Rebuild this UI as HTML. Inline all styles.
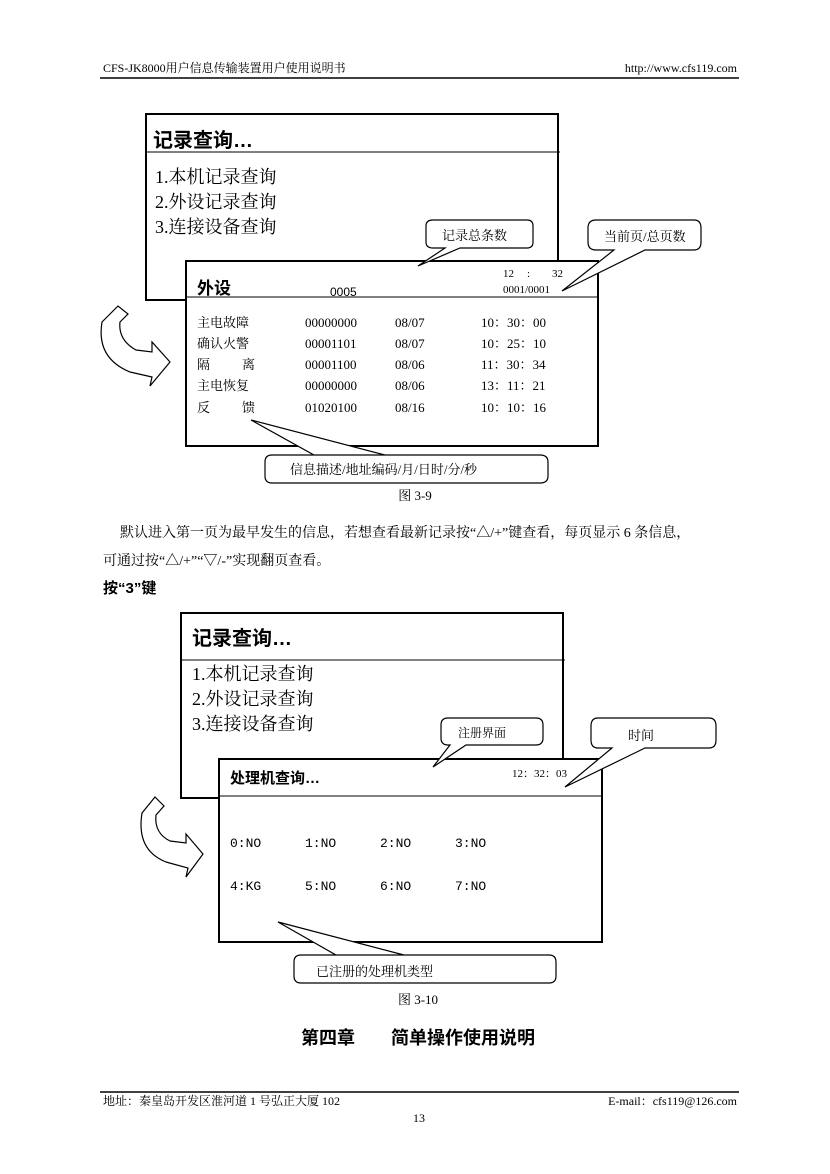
<!DOCTYPE html>
<html><head><meta charset="utf-8"><style>
html,body{margin:0;padding:0;background:#fff;}
svg{display:block;}
text{font-family:"Liberation Serif","Noto Serif CJK SC","Noto Sans CJK SC",serif;fill:#000;}
.s{font-family:"Liberation Sans","Noto Sans CJK SC",sans-serif;}
.b{font-weight:bold;}
</style></head><body>
<svg width="830" height="1174" viewBox="0 0 830 1174" xmlns="http://www.w3.org/2000/svg">
<!-- header -->
<text x="103" y="72" font-size="12">CFS-JK8000用户信息传输装置用户使用说明书</text>
<text x="737" y="72" font-size="12" text-anchor="end">http://www.cfs119.com</text>
<line x1="100" y1="78" x2="739" y2="78" stroke="#000" stroke-width="1.5"/>

<!-- FIG 3-9 -->
<rect x="146" y="114" width="412" height="186" fill="#fff" stroke="#000" stroke-width="2"/>
<line x1="146" y1="152" x2="560" y2="152" stroke="#000" stroke-width="1"/>
<text x="153" y="147" font-size="20" class="s b">记录查询…</text>
<text x="155" y="183" font-size="18">1.本机记录查询</text>
<text x="155" y="208" font-size="18">2.外设记录查询</text>
<text x="155" y="233" font-size="18">3.连接设备查询</text>

<rect x="186" y="261" width="412" height="185" fill="#fff" stroke="#000" stroke-width="2"/>
<line x1="186" y1="297" x2="598" y2="297" stroke="#000" stroke-width="1"/>
<text x="197" y="294" font-size="17" class="s b">外设</text>
<text x="330" y="296" font-size="12" class="s">0005</text>
<text x="503" y="277" font-size="11">12</text><text x="527" y="277" font-size="11">:</text><text x="552" y="277" font-size="11">32</text>
<text x="503" y="293" font-size="11">0001/0001</text>
<g font-size="13">
<text x="197" y="327">主电故障</text><text x="305" y="327">00000000</text><text x="395" y="327">08/07</text><text x="481" y="327">10：30：00</text>
<text x="197" y="348">确认火警</text><text x="305" y="348">00001101</text><text x="395" y="348">08/07</text><text x="481" y="348">10：25：10</text>
<text x="197" y="369">隔</text><text x="242" y="369">离</text><text x="305" y="369">00001100</text><text x="395" y="369">08/06</text><text x="481" y="369">11：30：34</text>
<text x="197" y="390">主电恢复</text><text x="305" y="390">00000000</text><text x="395" y="390">08/06</text><text x="481" y="390">13：11：21</text>
<text x="197" y="412">反</text><text x="242" y="412">馈</text><text x="305" y="412">01020100</text><text x="395" y="412">08/16</text><text x="481" y="412">10：10：16</text>
</g>

<!-- callouts fig1 -->
<path d="M433,220 H527 Q533,220 533,226 V242 Q533,248 527,248 H460 L418,266 L445,248 H433 Q426,248 426,242 V226 Q426,220 433,220 Z" fill="#fff" stroke="#000" stroke-width="1.2"/>
<text x="442" y="240" font-size="13">记录总条数</text>
<path d="M596,220 H694 Q701,220 701,228 V242 Q701,250 694,250 H645 L562,291 L614,250 H596 Q588,250 588,242 V228 Q588,220 596,220 Z" fill="#fff" stroke="#000" stroke-width="1.2"/>
<text x="604" y="241" font-size="13">当前页/总页数</text>
<path d="M272,455 H385 L251,420 L314,455 H540 Q548,455 548,462 V476 Q548,483 540,483 H272 Q265,483 265,476 V462 Q265,455 272,455 Z" fill="#fff" stroke="#000" stroke-width="1.2"/>
<text x="290" y="474" font-size="13">信息描述/地址编码/月/日时/分/秒</text>
<text x="415" y="500" font-size="13" text-anchor="middle">图 3-9</text>

<!-- curved arrow 1 -->
<path d="M118,306 L102,322 Q96,358 130,372 L152,377 L150,386 L170,362 L152,342 L152,352 L136,350 Q118,340 120,322 L128,314 Z" fill="#fff" stroke="#000" stroke-width="1.2"/>

<!-- paragraph -->
<text x="120" y="537" font-size="14">默认进入第一页为最早发生的信息，若想查看最新记录按“△/+”键查看，每页显示 6 条信息，</text>
<text x="103" y="565" font-size="14">可通过按“△/+”“▽/-”实现翻页查看。</text>
<text x="103" y="593" font-size="15" class="s b">按“3”键</text>

<!-- FIG 3-10 -->
<rect x="181" y="613" width="382" height="185" fill="#fff" stroke="#000" stroke-width="2"/>
<line x1="181" y1="660" x2="565" y2="660" stroke="#000" stroke-width="1"/>
<text x="192" y="645" font-size="20" class="s b">记录查询…</text>
<text x="192" y="680" font-size="18">1.本机记录查询</text>
<text x="192" y="705" font-size="18">2.外设记录查询</text>
<text x="192" y="730" font-size="18">3.连接设备查询</text>

<rect x="219" y="759" width="383" height="183" fill="#fff" stroke="#000" stroke-width="2"/>
<line x1="219" y1="796" x2="602" y2="796" stroke="#000" stroke-width="1"/>
<text x="230" y="783" font-size="15" class="s b">处理机查询…</text>
<text x="512" y="777" font-size="11">12：32：03</text>
<g font-size="13" font-family="Liberation Mono, monospace">
<text x="230" y="847" style="font-family:'Liberation Mono',monospace">0:NO</text>
<text x="305" y="847" style="font-family:'Liberation Mono',monospace">1:NO</text>
<text x="380" y="847" style="font-family:'Liberation Mono',monospace">2:NO</text>
<text x="455" y="847" style="font-family:'Liberation Mono',monospace">3:NO</text>
<text x="230" y="890" style="font-family:'Liberation Mono',monospace">4:KG</text>
<text x="305" y="890" style="font-family:'Liberation Mono',monospace">5:NO</text>
<text x="380" y="890" style="font-family:'Liberation Mono',monospace">6:NO</text>
<text x="455" y="890" style="font-family:'Liberation Mono',monospace">7:NO</text>
</g>

<path d="M448,718 H536 Q543,718 543,725 V738 Q543,745 536,745 H466 L433,767 L450,745 H448 Q441,745 441,738 V725 Q441,718 448,718 Z" fill="#fff" stroke="#000" stroke-width="1.2"/>
<text x="458" y="737" font-size="12">注册界面</text>
<path d="M598,718 H709 Q716,718 716,726 V740 Q716,748 709,748 H645 L565,787 L612,748 H598 Q591,748 591,740 V726 Q591,718 598,718 Z" fill="#fff" stroke="#000" stroke-width="1.2"/>
<text x="628" y="740" font-size="13">时间</text>
<path d="M301,955 H404 L278,922 L336,955 H549 Q556,955 556,962 V976 Q556,983 549,983 H301 Q294,983 294,976 V962 Q294,955 301,955 Z" fill="#fff" stroke="#000" stroke-width="1.2"/>
<text x="316" y="976" font-size="13">已注册的处理机类型</text>
<text x="418" y="1004" font-size="13" text-anchor="middle">图 3-10</text>

<!-- curved arrow 2 -->
<path d="M155,797 L142,813 Q136,850 166,862 L188,868 L186,877 L203,854 L186,834 L186,843 L170,841 Q154,833 156,815 L164,806 Z" fill="#fff" stroke="#000" stroke-width="1.2"/>

<text x="418" y="1044" font-size="18" class="s b" text-anchor="middle">第四章　　简单操作使用说明</text>

<!-- footer -->
<line x1="100" y1="1092" x2="739" y2="1092" stroke="#000" stroke-width="1.5"/>
<text x="103" y="1105" font-size="12">地址：秦皇岛开发区淮河道 1 号弘正大厦 102</text>
<text x="737" y="1105" font-size="12" text-anchor="end">E-mail：cfs119@126.com</text>
<text x="419" y="1122" font-size="12" text-anchor="middle">13</text>
</svg>
</body></html>
